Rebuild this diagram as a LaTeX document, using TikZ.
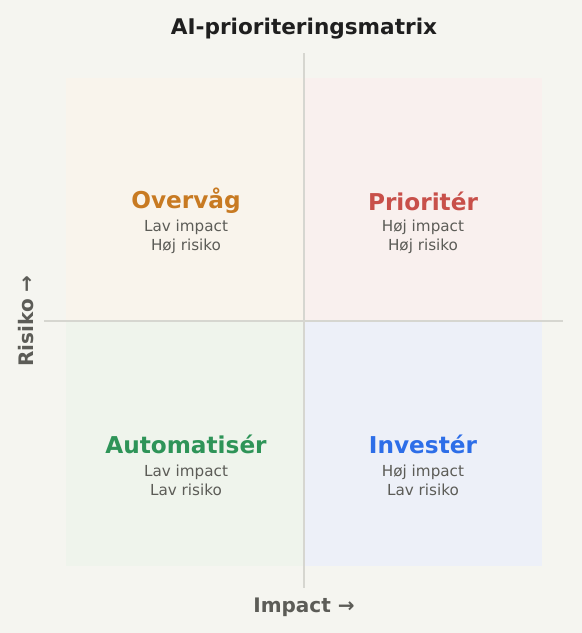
\documentclass[tikz,border=0pt]{standalone}
\usepackage{fontspec}
\setmainfont{DejaVu Sans}
\usepackage{tikz}
\usetikzlibrary{backgrounds}
\definecolor{bgc}{HTML}{F5F5F0}
\definecolor{axc}{HTML}{D6D6D0}
\definecolor{txc}{HTML}{5C5C57}
\definecolor{orq}{HTML}{F9F4EC}
\definecolor{req}{HTML}{F9F0EE}
\definecolor{grq}{HTML}{EFF4EC}
\definecolor{blq}{HTML}{EDF0F8}
\definecolor{ort}{HTML}{C87A22}
\definecolor{ret}{HTML}{C8504A}
\definecolor{grt}{HTML}{2E9458}
\definecolor{blt}{HTML}{2D6EE8}
\tikzstyle{axis}=[draw=axc, line width=1.5pt]
\tikzstyle{qt}=[inner sep=0pt, font=\fontsize{17.4}{20}\selectfont\bfseries]
\tikzstyle{sub}=[inner sep=0pt, align=center, text=txc, font=\fontsize{11.4}{14.3}\selectfont]
\tikzstyle{axl}=[inner sep=0pt, text=txc, font=\fontsize{15}{17}\selectfont\bfseries]

\begin{document}
\begin{tikzpicture}[x=0.75pt, y=-0.75pt]
	\fill[bgc] (0,0) rectangle (582,633);
	\useasboundingbox (0,0) rectangle (582,633);
	% quadrants
	\fill[orq] (66,78) rectangle (304,321);
	\fill[req] (304,78) rectangle (542,321);
	\fill[grq] (66,321) rectangle (304,566);
	\fill[blq] (304,321) rectangle (542,566);
	% axes
	\coordinate (xl) at (44,321);
	\coordinate (xr) at (563,321);
	\coordinate (yt) at (304,53);
	\coordinate (yb) at (304,588);
	\draw[axis] (xl) -- (xr);
	\draw[axis] (yt) -- (yb);
	\draw (304,28.5) node[inner sep=0pt, text=black!88, font=\fontsize{16.2}{19}\selectfont\bfseries] (title) {AI-prioriteringsmatrix};
	\draw (186,201) node[qt, text=ort] (ov) {Overvåg};
	\draw (186,237) node[sub] (ovs) {Lav impact\\Høj risiko};
	\draw (423,201) node[qt, text=ret] (pr) {Prioritér};
	\draw (423,237) node[sub] (prs) {Høj impact\\Høj risiko};
	\draw (186,444) node[qt, text=grt] (au) {Automatisér};
	\draw (186,480) node[sub] (aus) {Lav impact\\Lav risiko};
	\draw (423,444) node[qt, text=blt] (in) {Investér};
	\draw (423,480) node[sub] (ins) {Høj impact\\Lav risiko};
	\draw (304,607.5) node[axl] (xlab) {Impact →};
	\draw (26,321) node[axl, rotate=90] (ylab) {Risiko →};
\end{tikzpicture}
\end{document}
